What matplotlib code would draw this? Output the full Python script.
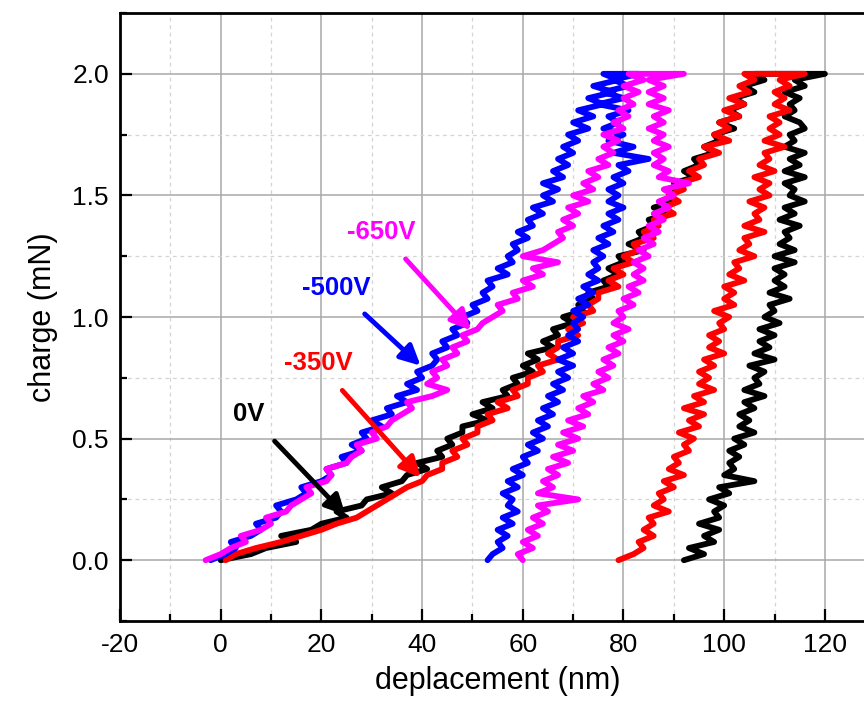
import matplotlib
matplotlib.use("Agg")
import matplotlib.pyplot as plt
from matplotlib.ticker import MultipleLocator

plt.rcParams['font.family'] = ['Liberation Sans', 'DejaVu Sans']
plt.rcParams['axes.unicode_minus'] = False

# load levels (mN), same grid for every branch
load = [0.000, 0.025, 0.050, 0.075, 0.100, 0.125, 0.150, 0.175, 0.200, 0.225,
        0.250, 0.275, 0.300, 0.325, 0.350, 0.375, 0.400, 0.425, 0.450, 0.475,
        0.500, 0.525, 0.550, 0.575, 0.600, 0.625, 0.650, 0.675, 0.700, 0.725,
        0.750, 0.775, 0.800, 0.825, 0.850, 0.875, 0.900, 0.925, 0.950, 0.975,
        1.000, 1.025, 1.050, 1.075, 1.100, 1.125, 1.150, 1.175, 1.200, 1.225,
        1.250, 1.275, 1.300, 1.325, 1.350, 1.375, 1.400, 1.425, 1.450, 1.475,
        1.500, 1.525, 1.550, 1.575, 1.600, 1.625, 1.650, 1.675, 1.700, 1.725,
        1.750, 1.775, 1.800, 1.825, 1.850, 1.875, 1.900, 1.925, 1.950, 1.975,
        2.000]

# displacement (nm) on loading (0 -> 2 mN) and unloading (2 -> 0 mN)
v0_load = [0, 6, 9, 15, 12, 18, 20, 25, 23, 28, 29, 34, 32, 36, 37, 41, 39, 44, 43, 46,
           45, 48, 48, 53, 50, 54, 52, 57, 56, 59, 58, 62, 60, 63, 61, 66, 64, 67, 66, 70,
           68, 72, 71, 74, 73, 77, 76, 79, 77, 80, 79, 84, 81, 84, 83, 86, 85, 89, 86, 90,
           89, 91, 90, 94, 92, 95, 94, 98, 96, 99, 98, 102, 99, 103, 101, 104, 102, 106, 104, 108,
           106]
v0_unload = [120, 114, 116, 112, 115, 113, 114, 112, 115, 116, 113, 114, 112, 116, 113, 115, 112, 116, 112, 114,
             113, 116, 112, 114, 111, 115, 112, 113, 111, 114, 110, 114, 110, 112, 110, 112, 109, 113, 109, 110,
             108, 111, 107, 110, 107, 109, 106, 110, 105, 108, 106, 107, 104, 108, 104, 106, 103, 105, 103, 106,
             102, 104, 101, 103, 101, 102, 100, 106, 99, 101, 97, 100, 98, 99, 95, 99, 96, 98, 93, 96,
             92]

v350_load = [1, 3, 7, 12, 16, 20, 23, 27, 29, 31, 33, 35, 37, 40, 41, 44, 44, 47, 46, 49,
             48, 51, 51, 54, 53, 57, 55, 59, 58, 61, 61, 64, 63, 67, 65, 67, 67, 71, 69, 72,
             70, 74, 73, 75, 75, 79, 77, 80, 78, 82, 80, 83, 82, 86, 84, 87, 86, 90, 88, 91,
             89, 92, 91, 95, 93, 96, 95, 99, 96, 101, 98, 101, 99, 103, 100, 104, 101, 105, 103, 106,
             104]
v350_unload = [116, 111, 113, 110, 112, 110, 113, 109, 111, 109, 111, 108, 112, 108, 109, 107, 110, 106, 109, 107,
               109, 105, 108, 106, 107, 104, 108, 104, 105, 103, 106, 102, 103, 101, 104, 100, 102, 100, 102, 98,
               101, 99, 100, 97, 99, 97, 100, 96, 98, 95, 97, 95, 98, 94, 96, 92, 96, 93, 95, 91,
               94, 92, 93, 90, 91, 89, 92, 88, 90, 87, 88, 86, 89, 85, 86, 84, 86, 83, 84, 82,
               79]

v500_load = [-2, 1, 3, 2, 6, 8, 7, 11, 12, 11, 15, 17, 16, 20, 22, 21, 25, 24, 28, 26,
             29, 28, 32, 30, 34, 33, 37, 35, 39, 37, 40, 39, 42, 43, 42, 45, 44, 47, 46, 49,
             48, 51, 50, 53, 52, 54, 53, 57, 55, 58, 57, 59, 58, 61, 59, 62, 61, 64, 62, 66,
             64, 67, 64, 68, 66, 69, 67, 70, 68, 71, 69, 73, 70, 74, 71, 76, 73, 78, 74, 79,
             76]
v500_unload = [83, 78, 81, 76, 80, 75, 81, 77, 79, 76, 80, 77, 82, 78, 85, 79, 81, 78, 80, 77,
               79, 77, 80, 77, 79, 76, 78, 75, 77, 74, 76, 74, 75, 73, 75, 72, 74, 71, 73, 70,
               72, 70, 71, 69, 71, 68, 70, 67, 70, 67, 69, 66, 68, 65, 67, 64, 66, 63, 65, 62,
               64, 61, 63, 60, 61, 58, 60, 57, 59, 56, 58, 57, 59, 56, 58, 55, 57, 55, 56, 54,
               53]

v650_load = [-3, 0, 2, 5, 4, 8, 10, 9, 13, 14, 16, 18, 17, 21, 22, 21, 25, 26, 28, 27,
             31, 30, 33, 34, 36, 38, 37, 42, 45, 41, 43, 42, 45, 44, 47, 46, 49, 48, 51, 52,
             54, 56, 55, 59, 58, 62, 60, 64, 62, 67, 60, 64, 66, 68, 67, 70, 68, 71, 69, 73,
             70, 74, 72, 75, 73, 77, 75, 78, 76, 79, 76, 80, 78, 81, 79, 82, 80, 83, 80, 84,
             81]
v650_unload = [92, 85, 88, 85, 88, 85, 89, 86, 88, 85, 88, 86, 89, 86, 88, 86, 89, 87, 93, 88,
               90, 87, 89, 86, 88, 85, 87, 84, 86, 83, 85, 82, 84, 82, 84, 81, 83, 80, 82, 79,
               80, 78, 81, 78, 80, 77, 79, 76, 78, 75, 77, 74, 76, 72, 74, 71, 73, 69, 72, 68,
               71, 67, 70, 66, 69, 65, 67, 64, 66, 63, 71, 63, 65, 62, 64, 61, 63, 60, 62, 59,
               60]

labels = ['0V', '-350V', '-500V', '-650V']
colors = ['black', 'red', 'blue', '#ff00ff']
curves = [(v0_load, v0_unload), (v350_load, v350_unload),
          (v500_load, v500_unload), (v650_load, v650_unload)]

# label text position and arrow tip (data coords)
label_xy = [(5.6, 0.60), (19.3, 0.81), (23.0, 1.12), (31.8, 1.35)]
arrow_tip = [(24.8, 0.185), (39.7, 0.34), (39.7, 0.80), (49.7, 0.945)]

fig = plt.figure(figsize=(8.64, 7.08), dpi=100)
ax = fig.add_axes([0.1389, 0.1229, 0.8741, 0.8587])

for (xl, xu), c in zip(curves, colors):
    ax.plot(xl + xu, load + load[::-1], color=c, lw=4.2,
            solid_joinstyle='round', solid_capstyle='round')

for lab, c, (tx, ty), (hx, hy) in zip(labels, colors, label_xy, arrow_tip):
    ax.annotate(lab, xy=(hx, hy), xytext=(tx, ty), color=c, fontsize=18.5,
                fontweight='bold', ha='center', va='center',
                arrowprops=dict(arrowstyle='-|>', color=c, lw=3.5,
                                mutation_scale=30, shrinkA=12, shrinkB=0))

ax.set_xlim(-20, 130)
ax.set_ylim(-0.25, 2.25)
ax.xaxis.set_minor_locator(MultipleLocator(10))
ax.yaxis.set_minor_locator(MultipleLocator(0.25))
ax.set_xticks([-20, 0, 20, 40, 60, 80, 100, 120])
ax.set_yticks([0.0, 0.5, 1.0, 1.5, 2.0])
ax.yaxis.set_major_formatter(plt.FormatStrFormatter('%.1f'))

ax.grid(which='major', color='#a8a8a8', lw=1.1, ls='-')
ax.grid(which='minor', color='#d4d4d4', lw=0.9, ls=(0, (3, 3)))
ax.set_axisbelow(True)

ax.tick_params(which='both', direction='in', top=False, right=False,
               width=1.6, labelsize=19)
ax.tick_params(which='major', length=8.5)
ax.tick_params(which='minor', length=5)
ax.tick_params(axis='x', pad=9)
ax.tick_params(axis='y', pad=8)
for s in ax.spines.values():
    s.set_linewidth(2)

ax.set_xlabel('deplacement (nm)', fontsize=22, labelpad=6)
ax.set_ylabel('charge (mN)', fontsize=22, labelpad=10)

fig.savefig('out.png', dpi=100)
